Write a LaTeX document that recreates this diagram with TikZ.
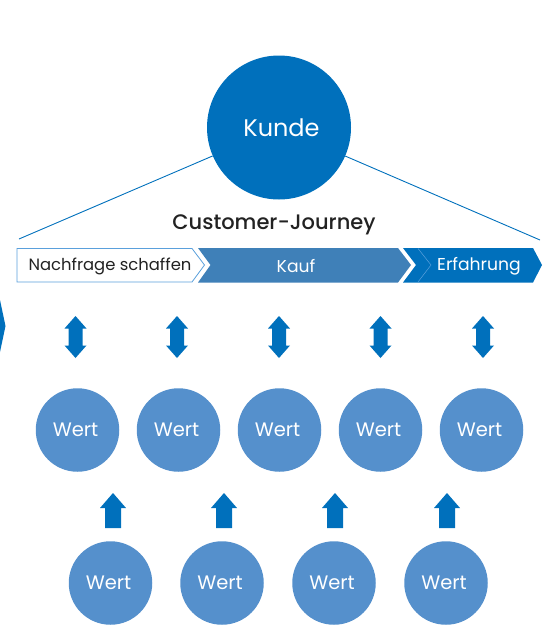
\documentclass[tikz,border=0pt]{standalone}
\usepackage{fontspec}
\setmainfont{Poppins}
\newfontfamily\medfont{Poppins Medium}
\definecolor{dblue}{HTML}{0070BC}
\definecolor{mblue}{HTML}{5590CC}
\definecolor{kblue}{HTML}{3F80B8}
\definecolor{lblue}{HTML}{5AA0DC}
\definecolor{ink}{HTML}{222222}
\tikzset{
  x=1pt,y=-1pt,
  kundenode/.style={circle,fill=dblue,minimum size=144pt,inner sep=0pt,text=white,font=\fontsize{24}{24}\selectfont},
  wertnode/.style={circle,fill=mblue,minimum size=83.5pt,inner sep=0pt,text=white,font=\fontsize{19.5}{19.5}\selectfont},
  barlabel/.style={inner sep=0pt,font=\fontsize{16.4}{16.4}\selectfont},
  barlabelw/.style={inner sep=0pt,text=white,font=\fontsize{17.2}{17.2}\selectfont},
  conn/.style={draw=dblue,line width=0.9pt},
  updown/.pic={\fill[dblue] (0,-21)--(11,-8.5)--(7,-8.5)--(7,8.5)--(11,8.5)--(0,21)--(-11,8.5)--(-7,8.5)--(-7,-8.5)--(-11,-8.5)--cycle;},
  uparrow/.pic={\fill[dblue] (0,-17.5)--(13,-2.5)--(8,-2.5)--(8,17.5)--(-8,17.5)--(-8,-2.5)--(-13,-2.5)--cycle;}
}
\begin{document}
\begin{tikzpicture}
\useasboundingbox (0,0) rectangle (542,632);
\node[kundenode] (kunde) at (279,127.5) {\hspace*{5pt}Kunde};
\coordinate (lend) at (19,239);
\coordinate (rend) at (540,240);
\draw[conn] (kunde) -- (lend);
\draw[conn] (kunde) -- (rend);
\node[inner sep=0pt,text=ink,font=\medfont\fontsize{21}{21}\selectfont] (cj) at (274,224.5) {Customer-Journey};
% bar
\draw[lblue,line width=0.8pt,fill=white] (17,248.5)--(192,248.5)--(204.5,265)--(192,282)--(17,282)--cycle;
\fill[kblue] (198,248)--(398,248)--(411,265)--(398,282.5)--(198,282.5)--(210.5,265)--cycle;
\fill[dblue] (403,248)--(533,248)--(542,265)--(533,282.5)--(403,282.5)--(416,265)--cycle;
\draw[lblue,line width=0.5pt] (418,248.5)--(431,265)--(418,282);
\node[barlabel,text=ink] (nach) at (110,266) {Nachfrage schaffen};
\node[barlabelw] (kauf) at (296,266) {Kauf};
\node[barlabelw] (erf) at (479,266) {Erfahrung};
\fill[dblue] (0,300)--(5.5,326)--(0,352)--cycle;
% arrows
\foreach \x in {75.5,177,279,380.5,483} \pic at (\x,337) {updown};
\foreach \x in {113,224,335,447} \pic at (\x,510.5) {uparrow};
% values
\foreach \n/\x in {a/77.5,b/178.5,c/279.5,d/380.5,e/481.5}
  \node[wertnode] (w\n) at (\x,430) {\hspace*{-4pt}Wert};
\foreach \n/\x in {f/110.5,g/222,h/334,i/446}
  \node[wertnode] (w\n) at (\x,583) {\hspace*{-4pt}Wert};
\end{tikzpicture}
\end{document}
